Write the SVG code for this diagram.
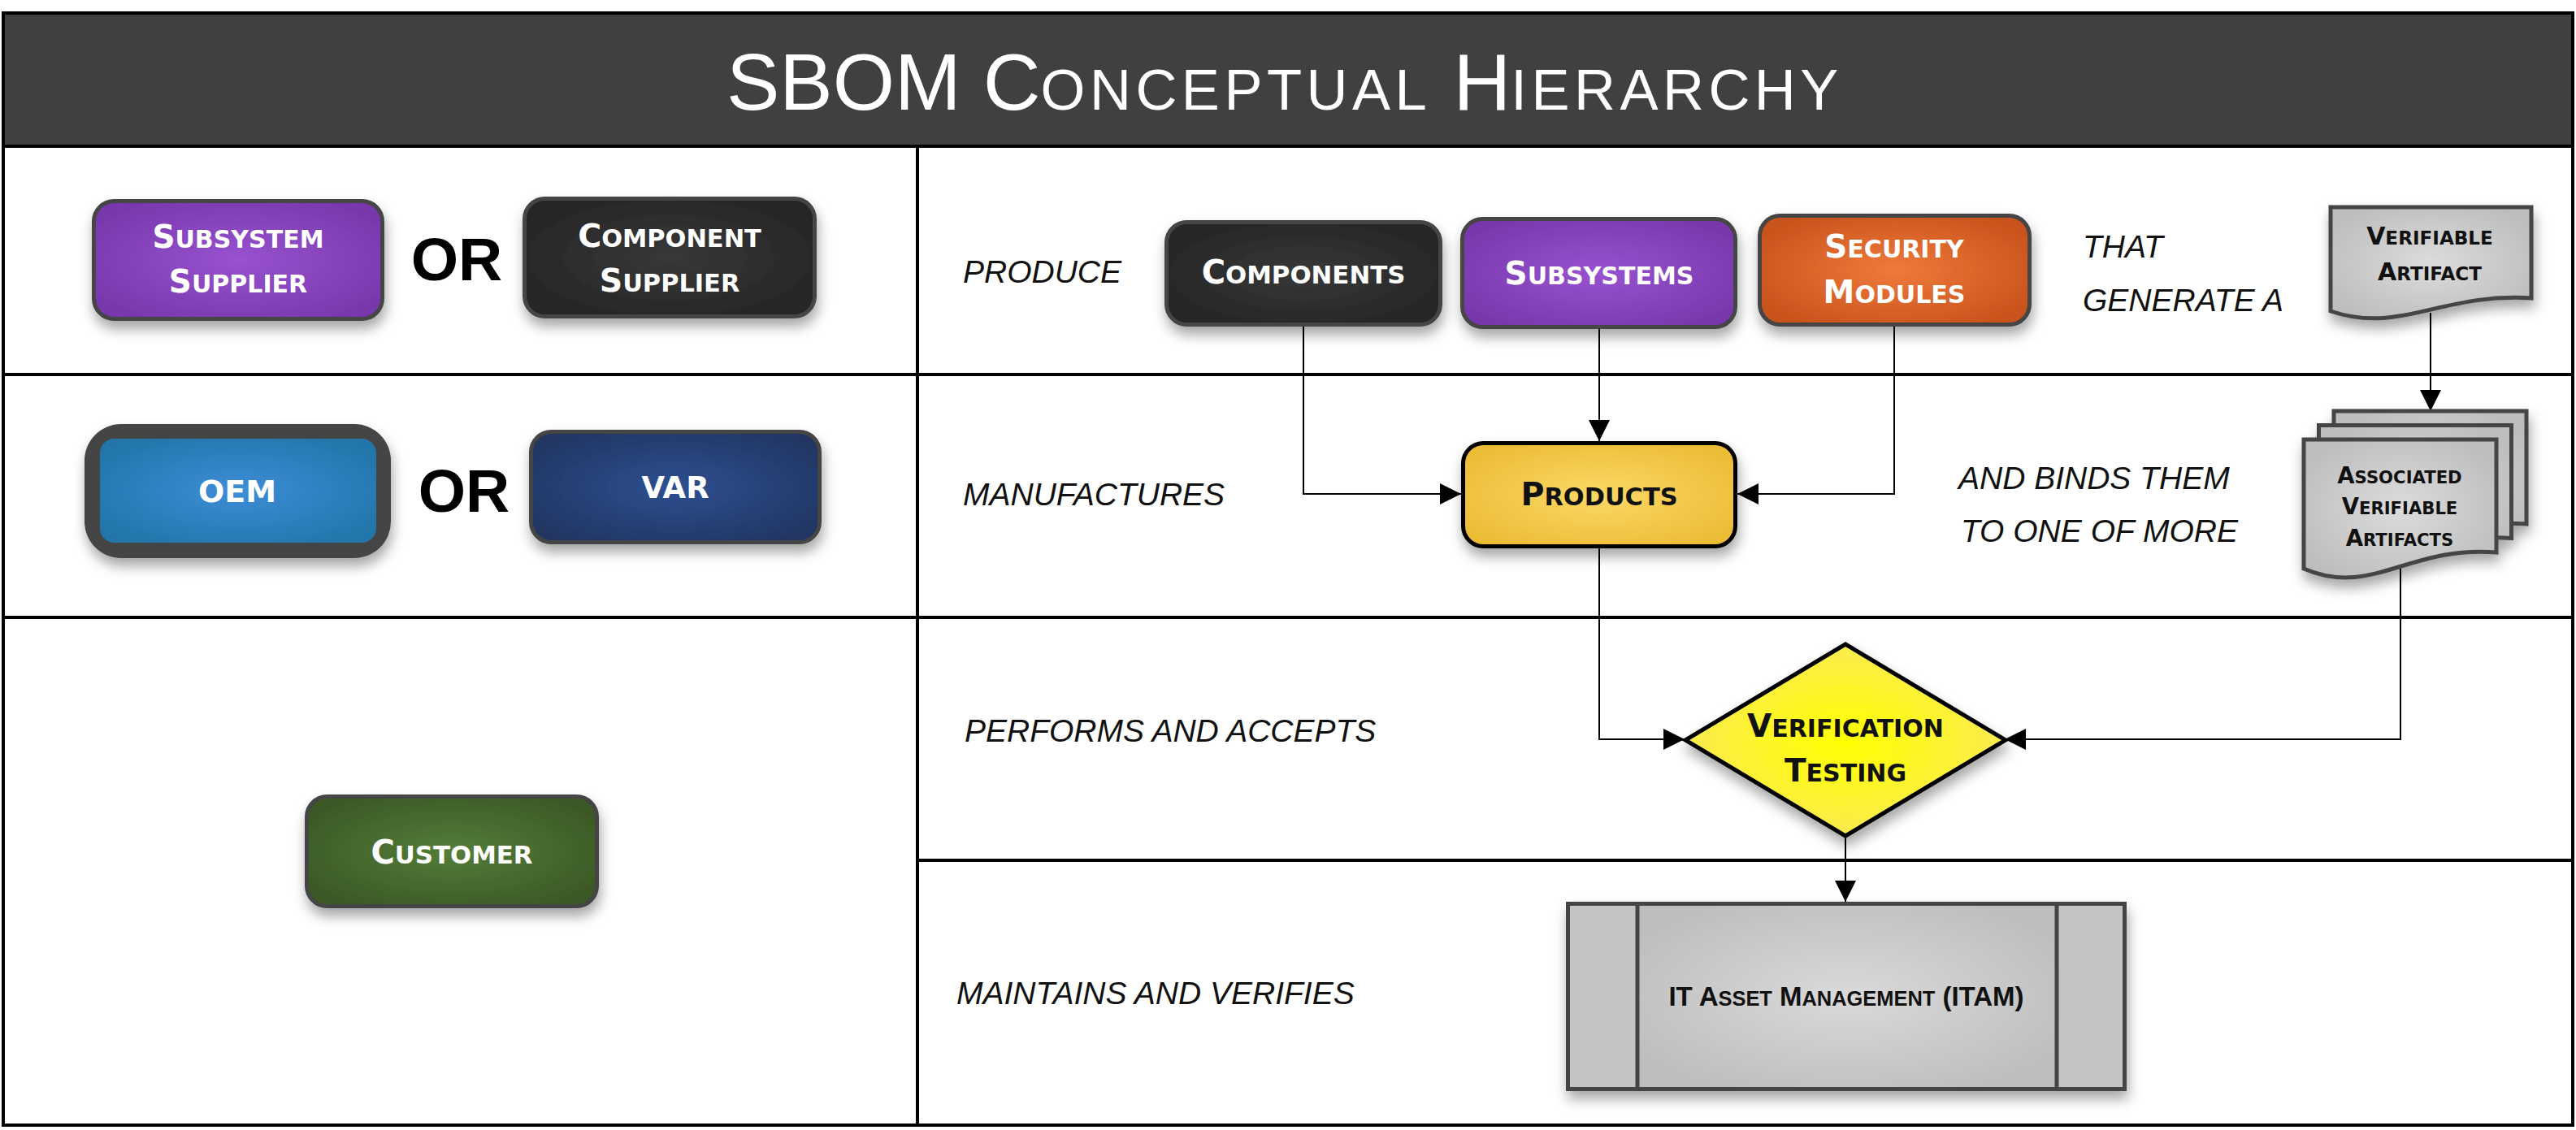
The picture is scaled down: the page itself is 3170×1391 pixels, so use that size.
<svg xmlns="http://www.w3.org/2000/svg" width="3170" height="1391" viewBox="0 0 3170 1391">
<style>
.frame{fill:none;stroke:#000;stroke-width:4}
.box{stroke:#444;stroke-width:5}
.lbl{font-family:"DejaVu Sans",Verdana,sans-serif;font-weight:bold;text-anchor:middle}
.w{fill:#fff}
.k{fill:#111}
.s{font-size:0.77em}
.it{font-family:"Liberation Sans",Arial,sans-serif;font-style:italic;font-size:39px;fill:#111}
.or{font-family:"Liberation Sans",Arial,sans-serif;font-weight:bold;font-size:75px;fill:#000;text-anchor:middle}
.conn{fill:none;stroke:#000;stroke-width:2}
.ts{font-size:0.72em;letter-spacing:5.5px}
</style>
<defs>
<filter id="sh" x="-20%" y="-20%" width="140%" height="160%">
<feDropShadow dx="2" dy="10" stdDeviation="8" flood-color="#000" flood-opacity="0.35"/>
</filter>
<marker id="arr" markerUnits="userSpaceOnUse" markerWidth="26" markerHeight="26" refX="26" refY="13" orient="auto">
<path d="M0,0 L26,13 L0,26 Z" fill="#000"/>
</marker>
<radialGradient id="gPurple" cx="50%" cy="50%" r="60%"><stop offset="0" stop-color="#9852D0"/><stop offset="1" stop-color="#7838AC"/></radialGradient>
<radialGradient id="gDark" cx="50%" cy="50%" r="60%"><stop offset="0" stop-color="#383838"/><stop offset="1" stop-color="#252525"/></radialGradient>
<radialGradient id="gOrange" cx="50%" cy="50%" r="60%"><stop offset="0" stop-color="#EE7A3A"/><stop offset="1" stop-color="#C9521C"/></radialGradient>
<radialGradient id="gGold" cx="50%" cy="50%" r="60%"><stop offset="0" stop-color="#FBD966"/><stop offset="1" stop-color="#ECBC36"/></radialGradient>
<radialGradient id="gBlue" cx="50%" cy="50%" r="60%"><stop offset="0" stop-color="#3E8DD8"/><stop offset="1" stop-color="#2276AA"/></radialGradient>
<radialGradient id="gNavy" cx="50%" cy="50%" r="60%"><stop offset="0" stop-color="#2E5090"/><stop offset="1" stop-color="#203663"/></radialGradient>
<radialGradient id="gGreen" cx="50%" cy="50%" r="60%"><stop offset="0" stop-color="#547D38"/><stop offset="1" stop-color="#3B5826"/></radialGradient>
<radialGradient id="gYellow" cx="50%" cy="50%" r="55%"><stop offset="0" stop-color="#FFFF00"/><stop offset="1" stop-color="#FCE958"/></radialGradient>
<radialGradient id="gGray" cx="50%" cy="50%" r="60%"><stop offset="0" stop-color="#DCDCDC"/><stop offset="1" stop-color="#BDBDBD"/></radialGradient>
</defs>

<rect x="0" y="0" width="3170" height="1391" fill="#fff"/>

<g id="frame">
<rect x="4" y="16" width="3162" height="164" fill="#404040"/>
<rect class="frame" x="4" y="16" width="3162" height="1369"/>
<line class="frame" x1="4" y1="180" x2="3166" y2="180"/>
<line class="frame" x1="4" y1="461" x2="3166" y2="461"/>
<line class="frame" x1="4" y1="760" x2="3166" y2="760"/>
<line class="frame" x1="1129" y1="1059" x2="3166" y2="1059"/>
<line class="frame" x1="1129" y1="180" x2="1129" y2="1385"/>
<text x="894" y="135" font-family="Liberation Sans, Arial, sans-serif" font-size="98" fill="#fff">SBOM C<tspan class="ts">ONCEPTUAL</tspan> H<tspan class="ts">IERARCHY</tspan></text>
</g>

<g id="connectors">
<path class="conn" d="M1604,402 V608 H1798" marker-end="url(#arr)"/>
<path class="conn" d="M1968,405 V543" marker-end="url(#arr)"/>
<path class="conn" d="M2331,402 V608 H2138" marker-end="url(#arr)"/>
<path class="conn" d="M1968,675 V910 H2073" marker-end="url(#arr)"/>
<path class="conn" d="M2954,700 V910 H2467" marker-end="url(#arr)"/>
<path class="conn" d="M2991,385 V506" marker-end="url(#arr)"/>
<path class="conn" d="M2271,1028 V1110" marker-end="url(#arr)"/>
</g>

<g id="subsystem-supplier">
<rect class="box" x="115.5" y="247.5" width="355" height="145" rx="25" fill="url(#gPurple)" filter="url(#sh)"/>
<text class="lbl w" x="293" y="305" font-size="39">S<tspan class="s">UBSYSTEM</tspan></text>
<text class="lbl w" x="293" y="360" font-size="39">S<tspan class="s">UPPLIER</tspan></text>
</g>

<g id="or1"><text class="or" x="562" y="345">OR</text></g>

<g id="component-supplier">
<rect class="box" x="645.5" y="244.5" width="357" height="145" rx="25" fill="url(#gDark)" filter="url(#sh)"/>
<text class="lbl w" x="824" y="304" font-size="39.5">C<tspan class="s">OMPONENT</tspan></text>
<text class="lbl w" x="824" y="359" font-size="39.5">S<tspan class="s">UPPLIER</tspan></text>
</g>

<g id="oem">
<rect x="104" y="522" width="377" height="165" rx="45" fill="#444" filter="url(#sh)"/>
<rect x="123" y="540" width="340" height="128" rx="18" fill="url(#gBlue)"/>
<text class="lbl w" x="292" y="618" font-size="38">OEM</text>
</g>

<g id="or2"><text class="or" x="571" y="630">OR</text></g>

<g id="var">
<rect class="box" x="653.5" y="531.5" width="355" height="136" rx="25" fill="url(#gNavy)" filter="url(#sh)"/>
<text class="lbl w" x="831" y="613" font-size="37">VAR</text>
</g>

<g id="customer">
<rect class="box" x="377.5" y="980.5" width="357" height="135" rx="25" fill="url(#gGreen)" filter="url(#sh)"/>
<text class="lbl w" x="556" y="1063" font-size="40">C<tspan class="s">USTOMER</tspan></text>
</g>

<g id="labels">
<text class="it" x="1185" y="348">PRODUCE</text>
<text class="it" x="2563" y="317">THAT</text>
<text class="it" x="2563" y="383">GENERATE A</text>
<text class="it" x="1185" y="622">MANUFACTURES</text>
<text class="it" x="2410" y="602">AND BINDS THEM</text>
<text class="it" x="2413" y="667">TO ONE OF MORE</text>
<text class="it" x="1187" y="913">PERFORMS AND ACCEPTS</text>
<text class="it" x="1177" y="1236">MAINTAINS AND VERIFIES</text>
</g>

<g id="components">
<rect class="box" x="1435.5" y="273.5" width="337" height="126" rx="25" fill="url(#gDark)" filter="url(#sh)"/>
<text class="lbl w" x="1604" y="349" font-size="40">C<tspan class="s">OMPONENTS</tspan></text>
</g>

<g id="subsystems">
<rect class="box" x="1799.5" y="269.5" width="336" height="133" rx="25" fill="url(#gPurple)" filter="url(#sh)"/>
<text class="lbl w" x="1968" y="350" font-size="39">S<tspan class="s">UBSYSTEMS</tspan></text>
</g>

<g id="security-modules">
<rect class="box" x="2165.5" y="265.5" width="332" height="134" rx="25" fill="url(#gOrange)" filter="url(#sh)"/>
<text class="lbl w" x="2331" y="317" font-size="39">S<tspan class="s">ECURITY</tspan></text>
<text class="lbl w" x="2331" y="373" font-size="39">M<tspan class="s">ODULES</tspan></text>
</g>

<g id="verifiable-artifact">
<path class="box" d="M2868,255 H3115 V367 C3004,360 2954,412 2868,383 Z" fill="url(#gGray)" filter="url(#sh)"/>
<text class="lbl k" x="2990" y="301" font-size="30">V<tspan class="s">ERIFIABLE</tspan></text>
<text class="lbl k" x="2990" y="345" font-size="30">A<tspan class="s">RTIFACT</tspan></text>
</g>

<g id="products">
<rect x="1800.5" y="545.5" width="335" height="127" rx="25" fill="url(#gGold)" stroke="#000" stroke-width="5" filter="url(#sh)"/>
<text class="lbl k" x="1968" y="622" font-size="39.5">P<tspan class="s">RODUCTS</tspan></text>
</g>

<g id="associated-verifiable-artifacts">
<g filter="url(#sh)">
<path class="box" d="M2872,506 H3109 V645 C3002,636 2955,701 2872,665 Z" fill="url(#gGray)"/>
<path class="box" d="M2853.5,523.5 H3090.5 V662.5 C2983.5,653.5 2936.5,718.5 2853.5,682.5 Z" fill="url(#gGray)"/>
<path class="box" d="M2835,541 H3072 V680 C2965,671 2918,736 2835,700 Z" fill="url(#gGray)"/>
</g>
<text class="lbl k" x="2953" y="595" font-size="27.5">A<tspan class="s">SSOCIATED</tspan></text>
<text class="lbl k" x="2953" y="633" font-size="27.5">V<tspan class="s">ERIFIABLE</tspan></text>
<text class="lbl k" x="2953" y="672" font-size="27.5">A<tspan class="s">RTIFACTS</tspan></text>
</g>

<g id="verification-testing">
<polygon points="2271,793 2468,911 2271,1029 2074,911" fill="url(#gYellow)" stroke="#000" stroke-width="5" stroke-linejoin="miter" filter="url(#sh)"/>
<text class="lbl k" x="2271" y="907" font-size="39">V<tspan class="s">ERIFICATION</tspan></text>
<text class="lbl k" x="2271" y="962" font-size="39">T<tspan class="s">ESTING</tspan></text>
</g>

<g id="itam">
<rect class="box" x="1929.5" y="1112.5" width="685" height="228" fill="#C4C4C4" filter="url(#sh)"/>
<rect x="2015" y="1115" width="516" height="223" fill="url(#gGray)" opacity="0.9"/>
<line x1="2015" y1="1112.5" x2="2015" y2="1340.5" stroke="#444" stroke-width="5"/>
<line x1="2531" y1="1112.5" x2="2531" y2="1340.5" stroke="#444" stroke-width="5"/>
<text x="2272" y="1238" font-family="Liberation Sans, Arial, sans-serif" font-weight="bold" font-size="33" fill="#111" text-anchor="middle">IT A<tspan class="s">SSET</tspan> M<tspan class="s">ANAGEMENT</tspan> (ITAM)</text>
</g>
</svg>
